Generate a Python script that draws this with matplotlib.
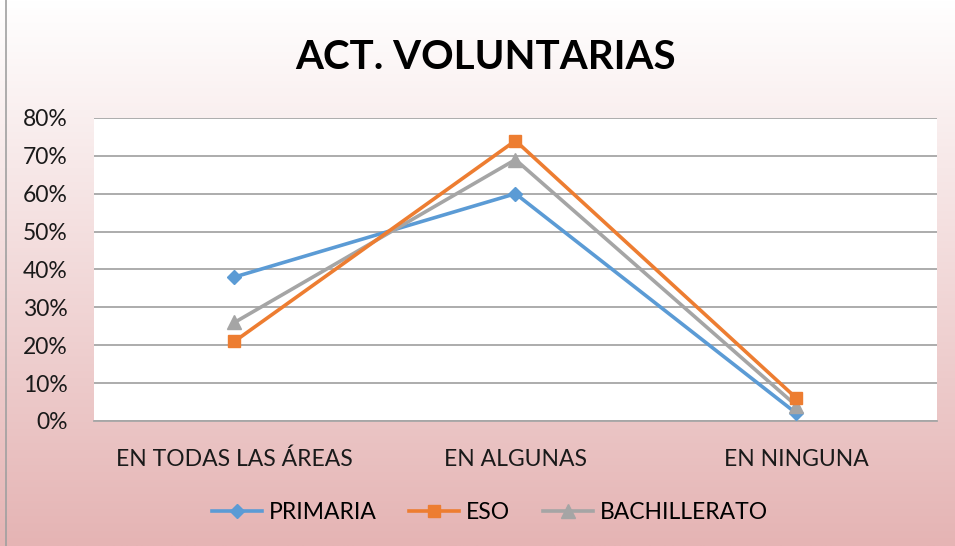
import numpy as np
import matplotlib.pyplot as plt
from matplotlib.lines import Line2D

plt.rcParams['font.family'] = ['Lato', 'DejaVu Sans']

categories = ['EN TODAS LAS ÁREAS', 'EN ALGUNAS', 'EN NINGUNA']
primaria = [0.38, 0.60, 0.02]
eso = [0.21, 0.74, 0.06]
bachillerato = [0.26, 0.69, 0.04]
y_ticks = [0.0, 0.1, 0.2, 0.3, 0.4, 0.5, 0.6, 0.7, 0.8]
y_labels = ['0%', '10%', '20%', '30%', '40%', '50%', '60%', '70%', '80%']

fig = plt.figure(figsize=(9.55, 5.46), dpi=100)

# background gradient, white at top to pink at bottom
bg = fig.add_axes([0, 0, 1, 1], zorder=-10)
top = np.array([1.0, 1.0, 1.0])
bottom = np.array([229, 180, 180]) / 255
t = np.linspace(0, 1, 256)[:, None]
grad = top + (bottom - top) * t
bg.imshow(np.repeat(grad[:, None, :], 2, axis=1), aspect='auto', extent=[0, 1, 0, 1])
bg.set_xlim(0, 1)
bg.set_ylim(0, 1)
bg.axvline(0.006, color='#A0A0A0', lw=1.2)
bg.axis('off')

ax = fig.add_axes([0.0984, 0.229, 0.8827, 0.555])
ax.set_facecolor('white')
x = np.arange(len(categories))

ax.plot(x, primaria, color='#5B9BD5', lw=2.6, marker='D', ms=7.5, zorder=3)
ax.plot(x, eso, color='#ED7D31', lw=2.6, marker='s', ms=9, zorder=4)
ax.plot(x, bachillerato, color='#A5A5A5', lw=2.6, marker='^', ms=10, zorder=3)

ax.set_xlim(-0.5, 2.5)
ax.set_ylim(0, 0.8)
ax.set_yticks(y_ticks)
ax.set_yticklabels(y_labels, fontsize=16.5)
ax.set_xticks(x)
ax.set_xticklabels(categories, fontsize=16.5)
ax.tick_params(axis='both', length=0, colors='#1a1a1a')
ax.tick_params(axis='x', pad=20)
ax.tick_params(axis='y', pad=19)
ax.yaxis.grid(True, color='#A6A6A6', lw=1.3)
ax.set_axisbelow(True)
for s in ['left', 'right', 'top']:
    ax.spines[s].set_visible(False)
ax.spines['bottom'].set_color('#A6A6A6')
ax.spines['bottom'].set_linewidth(1.3)

fig.text(0.5085, 0.895, 'ACT. VOLUNTARIAS', ha='center', va='center',
         fontsize=29, fontweight='bold', color='black')

handles = [
    Line2D([], [], color='#5B9BD5', lw=2.6, marker='D', ms=7.5),
    Line2D([], [], color='#ED7D31', lw=2.6, marker='s', ms=9),
    Line2D([], [], color='#A5A5A5', lw=2.6, marker='^', ms=10),
]
fig.legend(handles, ['PRIMARIA', 'ESO', 'BACHILLERATO'], loc='center',
           bbox_to_anchor=(0.513, 0.062), ncol=3, frameon=False, fontsize=16.5,
           handlelength=2.2, handletextpad=0.3, columnspacing=1.4)

fig.savefig('out.png', dpi=100)
